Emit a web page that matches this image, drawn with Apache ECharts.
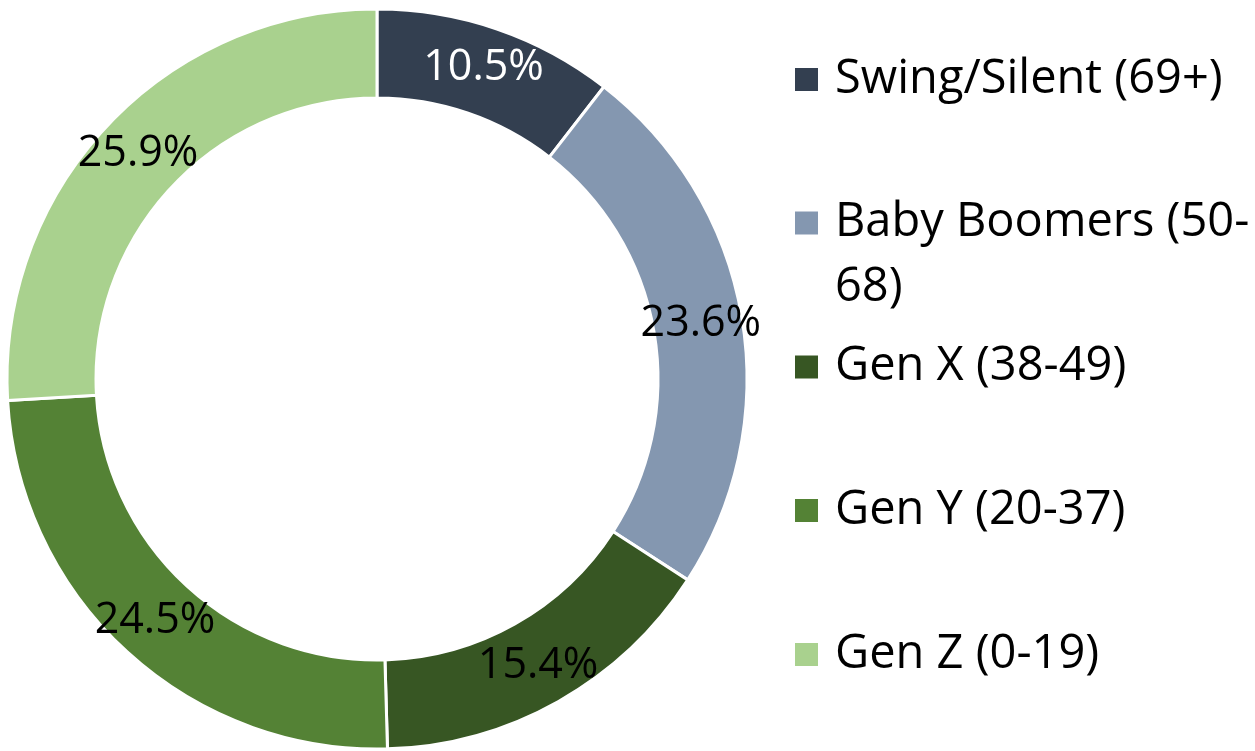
<!DOCTYPE html>
<html><head><meta charset="utf-8">
<script src="https://cdn.jsdelivr.net/npm/echarts@6/dist/echarts.min.js"></script>
<style>html,body{margin:0;padding:0;background:#fff}#c{width:1255px;height:751px}</style>
</head><body><div id="c"></div>
<script>
const categories = ['Swing/Silent (69+)', 'Baby Boomers (50-68)', 'Gen X (38-49)', 'Gen Y (20-37)', 'Gen Z (0-19)'];
const values = [10.5, 23.6, 15.4, 24.5, 25.9];
const colors = ['#333F50', '#8497B0', '#375623', '#548235', '#A9D18E'];
const labelColors = ['#FFFFFF', '#000000', '#000000', '#000000', '#000000'];

const FONT = 'Open Sans';
const LFS = 47;
const PFS = 43;
const LH = 65;
const legendCenters = [79.5, 223, 367, 510.5, 654.5];

const legends = categories.map((name, i) => {
  const wrapped = name === 'Baby Boomers (50-68)';
  return {
    show: true,
    orient: 'vertical',
    left: 793,
    top: wrapped ? legendCenters[i] - LH * 1.5 : legendCenters[i] - LH / 2,
    selectedMode: false,
    icon: 'rect',
    itemWidth: 25,
    itemHeight: 25,
    padding: 0,
    data: [name],
    formatter: wrapped ? () => ' \nBaby Boomers (50-\n68)' : undefined,
    textStyle: {
      fontFamily: FONT, fontSize: LFS, color: '#000', lineHeight: LH,
      padding: [0, 0, 0, 11]
    }
  };
});

const chart = echarts.init(document.getElementById('c'), null, {renderer: 'canvas'});
chart.setOption({
  animation: false,
  color: colors,
  legend: legends,
  series: [{
    type: 'pie',
    center: [377, 379],
    radius: [281, 370],
    startAngle: 90,
    clockwise: true,
    avoidLabelOverlap: false,
    itemStyle: {borderColor: '#fff', borderWidth: 3},
    label: {
      show: true, position: 'inside', fontFamily: FONT, fontSize: PFS,
      formatter: p => p.value.toFixed(1) + '%'
    },
    labelLine: {show: false},
    emphasis: {disabled: true},
    data: categories.map((n, i) => ({
      name: n, value: values[i],
      itemStyle: {color: colors[i]},
      label: {color: labelColors[i]}
    }))
  }]
});
</script></body></html>
